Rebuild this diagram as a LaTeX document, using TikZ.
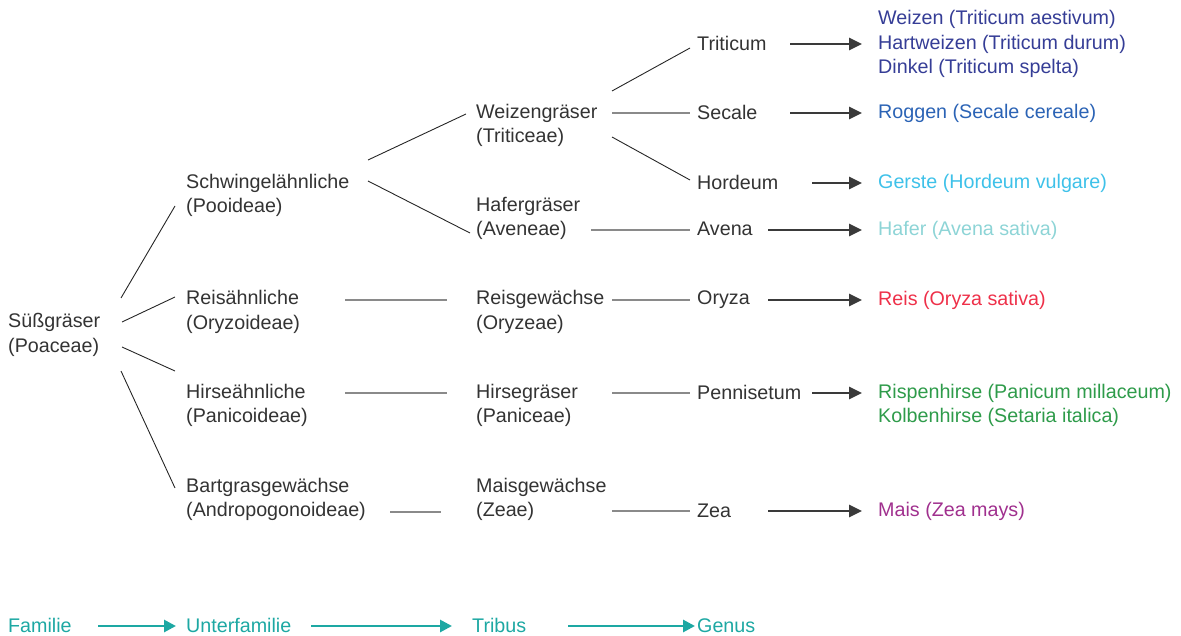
\documentclass[tikz,border=0pt]{standalone}
\usepackage{fontspec}
\setmainfont{Liberation Sans}
\usetikzlibrary{arrows.meta}
\definecolor{txt}{HTML}{333333}
\definecolor{cwheat}{HTML}{353D96}
\definecolor{crye}{HTML}{2B63B5}
\definecolor{cbarley}{HTML}{3EC1E9}
\definecolor{coat}{HTML}{8DD4D6}
\definecolor{crice}{HTML}{EE3049}
\definecolor{cmillet}{HTML}{2E9B4A}
\definecolor{cmaize}{HTML}{A0308E}
\definecolor{cteal}{HTML}{1DA8A3}
\definecolor{hline}{HTML}{8A8A8A}
\definecolor{aline}{HTML}{3A3A3A}
\newcommand{\lstrut}{\rule[-2pt]{0pt}{16pt}}
\begin{document}
\begin{tikzpicture}[x=1pt,y=1pt,
  lbl/.style={anchor=west, inner sep=0pt, align=left, text=txt,
    font=\fontsize{19.7}{24.5}\selectfont,
    execute at begin node={\lstrut}, execute at end node={\lstrut}},
  diag/.style={draw=black!85, line width=0.9pt},
  hor/.style={draw=hline, line width=2pt},
  arr/.style={draw=aline, line width=2.8pt, -{Triangle[length=13pt,width=12pt]}},
  legarr/.style={draw=cteal, line width=2.8pt, -{Triangle[length=12pt,width=12pt]}}]
\useasboundingbox (0,0) rectangle (1181,-636);
% column 0
\node[lbl] (sus) at (8,-335) {Süßgräser\\(Poaceae)};
% column 1
\node[lbl] (poo) at (186,-195.5) {Schwingelähnliche\\(Pooideae)};
\node[lbl] (ory) at (186,-312) {Reisähnliche\\(Oryzoideae)};
\node[lbl] (pan) at (186,-405.5) {Hirseähnliche\\(Panicoideae)};
\node[lbl] (and) at (186,-499.5) {Bartgrasgewächse\\(Andropogonoideae)};
% column 2
\node[lbl] (tri) at (476,-125.5) {Weizengräser\\(Triticeae)};
\node[lbl] (ave) at (476,-218.5) {Hafergräser\\(Aveneae)};
\node[lbl] (oryz) at (476,-312) {Reisgewächse\\(Oryzeae)};
\node[lbl] (panic) at (476,-405.5) {Hirsegräser\\(Paniceae)};
\node[lbl] (zeae) at (476,-499.5) {Maisgewächse\\(Zeae)};
% column 3
\node[lbl] (triticum) at (697,-44) {Triticum};
\node[lbl] (secale) at (697,-113) {Secale};
\node[lbl] (hordeum) at (697,-183) {Hordeum};
\node[lbl] (avena) at (697,-230) {Avena};
\node[lbl] (oryza) at (697,-300) {Oryza};
\node[lbl] (penn) at (697,-393) {Pennisetum};
\node[lbl] (zea) at (697,-511) {Zea};
% column 4
\node[lbl, text=cwheat] (weizen) at (878,-44) {Weizen (Triticum aestivum)\\Hartweizen (Triticum durum)\\Dinkel (Triticum spelta)};
\node[lbl, text=crye] (roggen) at (878,-113) {Roggen (Secale cereale)};
\node[lbl, text=cbarley] (gerste) at (878,-183) {Gerste (Hordeum vulgare)};
\node[lbl, text=coat] (hafer) at (878,-230) {Hafer (Avena sativa)};
\node[lbl, text=crice] (reis) at (878,-300) {Reis (Oryza sativa)};
\node[lbl, text=cmillet] (rispen) at (878,-405.5) {Rispenhirse (Panicum millaceum)\\Kolbenhirse (Setaria italica)};
\node[lbl, text=cmaize] (mais) at (878,-511) {Mais (Zea mays)};
% legend
\node[lbl, text=cteal] (familie) at (8,-626) {Familie};
\node[lbl, text=cteal] (unterfam) at (186,-626) {Unterfamilie};
\node[lbl, text=cteal] (tribus) at (472,-626) {Tribus};
\node[lbl, text=cteal] (genus) at (697,-626) {Genus};

% diagonal connectors
\draw[diag] ([xshift=113pt,yshift=37pt]sus.west) -- ([xshift=-11pt,yshift=-10.5pt]poo.west);
\draw[diag] ([xshift=114pt,yshift=13pt]sus.west) -- ([xshift=-11pt,yshift=15pt]ory.west);
\draw[diag] ([xshift=114pt,yshift=-12pt]sus.west) -- ([xshift=-11pt,yshift=34.5pt]pan.west);
\draw[diag] ([xshift=113pt,yshift=-36pt]sus.west) -- ([xshift=-11pt,yshift=11.5pt]and.west);
\draw[diag] ([xshift=182pt,yshift=35.5pt]poo.west) -- ([xshift=-10pt,yshift=11.5pt]tri.west);
\draw[diag] ([xshift=182pt,yshift=14.5pt]poo.west) -- ([xshift=-6pt,yshift=-14.5pt]ave.west);
\draw[diag] ([xshift=136pt,yshift=34.5pt]tri.west) -- ([xshift=-7pt,yshift=-4pt]triticum.west);
\draw[diag] ([xshift=136pt,yshift=-11.5pt]tri.west) -- ([xshift=-7pt,yshift=3pt]hordeum.west);
% horizontal connectors
\draw[hor] ([xshift=159pt,yshift=12pt]ory.west) -- ([xshift=-29pt,yshift=12pt]oryz.west);
\draw[hor] ([xshift=159pt,yshift=12.5pt]pan.west) -- ([xshift=-29pt,yshift=12.5pt]panic.west);
\draw[hor] ([xshift=204pt,yshift=-12.5pt]and.west) -- ([xshift=-35pt,yshift=-12.5pt]zeae.west);
\draw[hor] ([xshift=136pt,yshift=12.5pt]tri.west) -- ([xshift=-7pt]secale.west);
\draw[hor] ([xshift=115pt,yshift=-11.5pt]ave.west) -- ([xshift=-7pt]avena.west);
\draw[hor] ([xshift=136pt,yshift=12pt]oryz.west) -- ([xshift=-7pt]oryza.west);
\draw[hor] ([xshift=136pt,yshift=12.5pt]panic.west) -- ([xshift=-7pt]penn.west);
\draw[hor] ([xshift=136pt,yshift=-11.5pt]zeae.west) -- ([xshift=-7pt]zea.west);
% arrows to species
\draw[arr] ([xshift=93pt]triticum.west) -- ([xshift=-16pt]weizen.west);
\draw[arr] ([xshift=93pt]secale.west) -- ([xshift=-16pt]roggen.west);
\draw[arr] ([xshift=115pt]hordeum.west) -- ([xshift=-16pt]gerste.west);
\draw[arr] ([xshift=71pt]avena.west) -- ([xshift=-16pt]hafer.west);
\draw[arr] ([xshift=71pt]oryza.west) -- ([xshift=-16pt]reis.west);
\draw[arr] ([xshift=115pt]penn.west) -- ([xshift=-16pt,yshift=12.5pt]rispen.west);
\draw[arr] ([xshift=71pt]zea.west) -- ([xshift=-16pt]mais.west);
% legend arrows
\draw[legarr] ([xshift=90pt]familie.west) -- ([xshift=-10pt]unterfam.west);
\draw[legarr] ([xshift=125pt]unterfam.west) -- ([xshift=-20pt]tribus.west);
\draw[legarr] ([xshift=96pt]tribus.west) -- ([xshift=-2pt]genus.west);
\end{tikzpicture}
\end{document}
